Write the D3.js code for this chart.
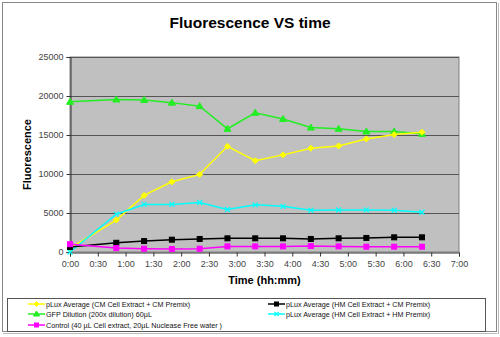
<!DOCTYPE html>
<html><head><meta charset="utf-8">
<script src="https://cdn.jsdelivr.net/npm/d3@7"></script>
<style>body{margin:0;background:#fff}svg{display:block;font-family:Arial,"Liberation Sans",sans-serif}</style>
</head><body><svg id="c" width="500" height="337"></svg>
<script>
const timesMin = [0, 50, 80, 110, 140, 170, 200, 230, 260, 290, 320, 350, 380];
const yellowVals = [500, 4100, 7250, 9000, 9950, 13550, 11700, 12450, 13300, 13600, 14500, 15050, 15350];
const greenVals = [19250, 19550, 19500, 19150, 18700, 15800, 17850, 17050, 15950, 15800, 15450, 15450, 15150];
const magentaVals = [1000, 500, 420, 380, 420, 720, 720, 720, 760, 720, 680, 680, 680];
const blackVals = [640, 1180, 1400, 1580, 1670, 1750, 1750, 1750, 1670, 1750, 1800, 1880, 1880];
const cyanVals = [0, 4850, 6100, 6100, 6350, 5450, 6050, 5850, 5350, 5380, 5400, 5350, 5100];
const xTickLabels = ["0:00","0:30","1:00","1:30","2:00","2:30","3:00","3:30","4:00","4:30","5:00","5:30","6:00","6:30","7:00"];
const yTicks = [0, 5000, 10000, 15000, 20000, 25000];
const seriesNames = ["pLux Average (CM Cell Extract + CM Premix)","GFP Dilution  (200x dilution) 60µL","Control  (40 µL Cell extract, 20µL Nuclease Free water )","pLux Average (HM Cell Extract + CM Premix)","pLux Average (HM Cell Extract + HM Premix)"];

const series = [
  {name: seriesNames[0], vals: yellowVals, color: "#FFFF00", marker: "diamond"},
  {name: seriesNames[1], vals: greenVals, color: "#22EE22", marker: "triangle"},
  {name: seriesNames[2], vals: magentaVals, color: "#FF00FF", marker: "square"},
  {name: seriesNames[3], vals: blackVals, color: "#000000", marker: "square"},
  {name: seriesNames[4], vals: cyanVals, color: "#00FFFF", marker: "x"}
];
const drawOrder = [1, 0, 4, 3, 2];

const svg = d3.select("#c");
const L = 70, R = 459, T = 57, B = 252;
const x = d3.scaleLinear().domain([0, 420]).range([L, R]);
const y = d3.scaleLinear().domain([0, 25000]).range([B, T]);

// outer border
svg.append("rect").attr("x", 2.5).attr("y", 2.5).attr("width", 494).attr("height", 329)
  .attr("fill", "#fff").attr("stroke", "#888").attr("stroke-width", 1);
svg.append("line").attr("x1", 3).attr("x2", 497).attr("y1", 333.5).attr("y2", 333.5).attr("stroke","#bbb");
svg.append("line").attr("x1", 498.5).attr("x2", 498.5).attr("y1", 3).attr("y2", 334).attr("stroke","#bbb");

// plot area
svg.append("rect").attr("x", L).attr("y", T).attr("width", R - L).attr("height", B - T)
  .attr("fill", "#C0C0C0").attr("stroke", "#808080");

// gridlines
svg.append("g").selectAll("line").data(yTicks.filter(d => d > 0)).join("line")
  .attr("x1", L).attr("x2", R).attr("y1", d => Math.round(y(d)) + 0.5).attr("y2", d => Math.round(y(d)) + 0.5)
  .attr("stroke", "#555").attr("stroke-width", 1);

// axes
const yAxis = d3.axisLeft(y).tickValues(yTicks).tickSize(4).tickPadding(3).tickFormat(d3.format("d"));
const gy = svg.append("g").attr("transform", `translate(${L + 0.5},0)`).call(yAxis);
const xAxis = d3.axisBottom(x).tickValues(d3.range(0, 421, 30)).tickSize(4).tickPadding(4)
  .tickFormat((d, i) => xTickLabels[i]);
const gx = svg.append("g").attr("transform", `translate(0,${B + 0.5})`).call(xAxis);
[gx, gy].forEach(g => {
  g.select(".domain").attr("stroke", "#333");
  g.selectAll(".tick line").attr("stroke", "#333");
  g.selectAll("text").attr("font-size", 9).attr("fill", "#444").attr("font-family", "Arial, Liberation Sans, sans-serif");
});

// markers
function drawMarker(g, type, color, cx, cy, s) {
  if (type === "square") {
    g.append("rect").attr("x", cx - s).attr("y", cy - s).attr("width", 2 * s).attr("height", 2 * s)
      .attr("fill", color).attr("stroke", color);
  } else if (type === "diamond") {
    g.append("path").attr("d", `M${cx},${cy - s - 0.5}L${cx + s + 0.5},${cy}L${cx},${cy + s + 0.5}L${cx - s - 0.5},${cy}Z`)
      .attr("fill", color).attr("stroke", color);
  } else if (type === "triangle") {
    g.append("path").attr("d", `M${cx},${cy - s - 1}L${cx + s + 1},${cy + s}L${cx - s - 1},${cy + s}Z`)
      .attr("fill", color).attr("stroke", color);
  } else if (type === "x") {
    g.append("path").attr("d", `M${cx - s},${cy - s}L${cx + s},${cy + s}M${cx - s},${cy + s}L${cx + s},${cy - s}`)
      .attr("stroke", color).attr("stroke-width", 1.2).attr("fill", "none");
  }
}

const line = d3.line().x((d, i) => x(timesMin[i])).y(d => y(d));
drawOrder.forEach(si => {
  const s = series[si];
  const g = svg.append("g");
  g.append("path").datum(s.vals).attr("d", line).attr("fill", "none")
    .attr("stroke", s.color).attr("stroke-width", 1.5);
  s.vals.forEach((v, i) => drawMarker(g, s.marker, s.color, x(timesMin[i]), y(v), 2.5));
});

// titles
svg.append("text").attr("x", 250).attr("y", 28).attr("text-anchor", "middle")
  .attr("font-size", 15.5).attr("font-weight", "bold").attr("fill", "#000").text("Fluorescence VS time");
svg.append("text").attr("x", (L + R) / 2).attr("y", 284).attr("text-anchor", "middle")
  .attr("font-size", 11).attr("font-weight", "bold").attr("fill", "#000").text("Time (hh:mm)");
svg.append("text").attr("transform", `translate(31,${(T + B) / 2}) rotate(-90)`).attr("text-anchor", "middle")
  .attr("font-size", 11).attr("font-weight", "bold").attr("fill", "#000").text("Fluorescence");

// legend
svg.append("rect").attr("x", 7.5).attr("y", 298.5).attr("width", 478).attr("height", 33)
  .attr("fill", "#fff").attr("stroke", "#555");
const legPos = [
  {x: 28, y: 304}, {x: 28, y: 314}, {x: 28, y: 325}, {x: 268, y: 304}, {x: 268, y: 314}
];
series.forEach((s, i) => {
  const p = legPos[i];
  const g = svg.append("g");
  g.append("line").attr("x1", p.x).attr("x2", p.x + 17).attr("y1", p.y).attr("y2", p.y)
    .attr("stroke", s.color).attr("stroke-width", 1.5);
  drawMarker(g, s.marker, s.color, p.x + 8.5, p.y, 2);
  g.append("text").attr("x", p.x + 18).attr("y", p.y + 3).attr("font-size", 7.2).attr("fill", "#111")
    .text(s.name);
});
</script></body></html>
